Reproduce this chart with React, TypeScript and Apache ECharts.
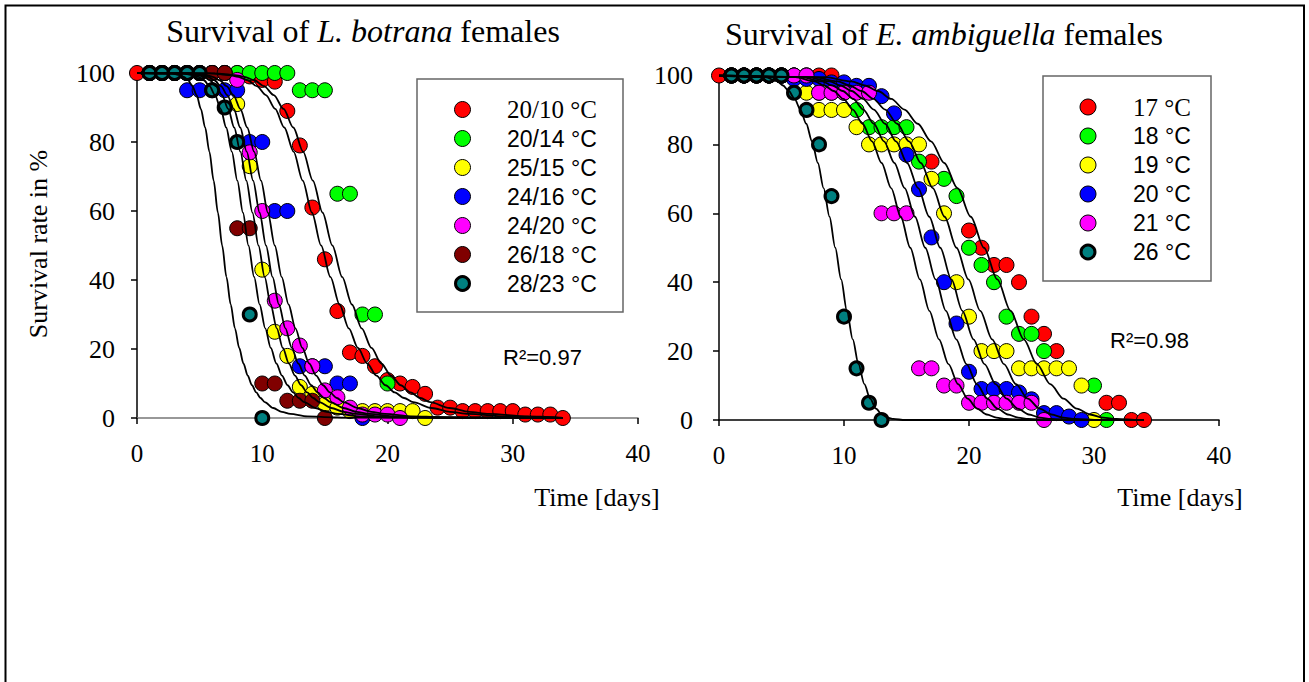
import React, { useEffect, useRef } from "react";
import * as echarts from "echarts";

// ---------- Lobesia botrana (left panel) ----------
const LB_LABELS = ["20/10 °C", "20/14 °C", "25/15 °C", "24/16 °C", "24/20 °C", "26/18 °C", "28/23 °C"];
const LB_COLORS = ["#FF0000", "#00FF00", "#FFFF00", "#0000FF", "#FF00FF", "#800000", "#008080"];

const lb2010 = [[0,100],[1,100],[2,100],[3,100],[4,100],[5,100],[6,100],[7,100],[8,100],[9,99],[10,98],[11,97.5],[12,89],[13,79],[14,61],[15,46],[16,31],[17,19],[18,18],[19,15],[20,11],[21,10],[22,9],[23,7],[24,3],[25,3],[26,2],[27,2],[28,2],[29,2],[30,2],[31,1],[32,1],[33,1],[34,0]];
const lb2014 = [[1,100],[2,100],[3,100],[4,100],[5,100],[6,100],[7,100],[8,100],[9,100],[10,100],[11,100],[12,100],[13,95],[14,95],[15,95],[16,65],[17,65],[18,30],[19,30],[20,10]];
const lb2515 = [[1,100],[2,100],[3,100],[4,100],[5,100],[6,100],[7,100],[8,91],[9,73],[10,43],[11,25],[12,18],[13,9],[14,7],[15,4],[16,3],[17,2],[18,2],[19,2],[20,2],[21,2],[22,2],[23,0]];
const lb2416 = [[1,100],[2,100],[3,100],[4,95],[5,95],[6,95],[7,95],[8,95],[9,80],[10,80],[11,60],[12,60],[13,15],[14,15],[15,15],[16,10],[17,10],[18,0]];
const lb2420 = [[1,100],[2,100],[3,100],[4,100],[5,100],[6,100],[7,100],[8,98],[9,77],[10,60],[11,34],[12,26],[13,21],[14,15],[15,8],[16,6],[17,3],[18,1],[19,1],[20,1],[21,0]];
const lb2618 = [[1,100],[2,100],[3,100],[4,100],[5,100],[6,100],[7,100],[8,55],[9,55],[10,10],[11,10],[12,5],[13,5],[14,5],[15,0]];
const lb2823 = [[1,100],[2,100],[3,100],[4,100],[5,100],[6,95],[7,90],[8,80],[9,30],[10,0]];
const LB_DATA = [lb2010, lb2014, lb2515, lb2416, lb2420, lb2618, lb2823];

// fitted curves, left panel: survival levels and the day at which each curve reaches them
const LB_FIT_LEVELS = [100, 99.9, 99.4, 98.9, 97.9, 96.2, 93.6, 89.6, 84.2, 77.2, 68.8, 59.5, 50, 40.9, 32.9, 26.0, 20.3, 15.8, 12.3, 9.5, 7.4, 5.8, 4.6, 2.9, 1.8, 1.2, 0.5, 0.27, 0.1, 0];
const lbFitA = [0, 2.72, 3.4, 3.74, 4.08, 4.42, 4.76, 5.1, 5.44, 5.78, 6.12, 6.46, 6.8, 7.14, 7.48, 7.82, 8.16, 8.5, 8.84, 9.18, 9.52, 9.86, 10.2, 10.88, 11.56, 12.24, 13.6, 14.96, 17.0, 34];
const lbFitB = [0, 3.56, 4.45, 4.9, 5.34, 5.79, 6.23, 6.68, 7.12, 7.57, 8.01, 8.46, 8.9, 9.35, 9.79, 10.24, 10.68, 11.13, 11.57, 12.02, 12.46, 12.91, 13.35, 14.24, 15.13, 16.02, 17.8, 19.58, 22.25, 34];
const lbFitC = [0, 3.88, 4.85, 5.34, 5.82, 6.31, 6.79, 7.28, 7.76, 8.25, 8.73, 9.22, 9.7, 10.19, 10.67, 11.16, 11.64, 12.13, 12.61, 13.1, 13.58, 14.07, 14.55, 15.52, 16.49, 17.46, 19.4, 21.34, 24.25, 34];
const lbFitD = [0, 4.12, 5.15, 5.67, 6.18, 6.7, 7.21, 7.73, 8.24, 8.76, 9.27, 9.79, 10.3, 10.82, 11.33, 11.85, 12.36, 12.88, 13.39, 13.91, 14.42, 14.94, 15.45, 16.48, 17.51, 18.54, 20.6, 22.66, 25.75, 34];
const lbFitE = [0, 4.4, 5.5, 6.05, 6.6, 7.15, 7.7, 8.25, 8.8, 9.35, 9.9, 10.45, 11, 11.55, 12.1, 12.65, 13.2, 13.75, 14.3, 14.85, 15.4, 15.95, 16.5, 17.6, 18.7, 19.8, 22, 24.2, 27.5, 34];
const lbFitF = [0, 5.88, 7.35, 8.09, 8.82, 9.56, 10.29, 11.03, 11.76, 12.5, 13.23, 13.97, 14.7, 15.44, 16.17, 16.91, 17.64, 18.38, 19.11, 19.85, 20.58, 21.32, 22.05, 23.52, 24.99, 26.46, 29.4, 32.34, 33.5, 34];
const lbFitG = [0, 6.24, 7.8, 8.58, 9.36, 10.14, 10.92, 11.7, 12.48, 13.26, 14.04, 14.82, 15.6, 16.38, 17.16, 17.94, 18.72, 19.5, 20.28, 21.06, 21.84, 22.62, 23.4, 24.96, 26.52, 28.08, 31.2, 33.3, 33.7, 34];
const LB_FITS = [lbFitA, lbFitB, lbFitC, lbFitD, lbFitE, lbFitF, lbFitG];

// ---------- Eupoecilia ambiguella (right panel) ----------
const EA_LABELS = ["17 °C", "18 °C", "19 °C", "20 °C", "21 °C", "26 °C"];
const EA_COLORS = ["#FF0000", "#00FF00", "#FFFF00", "#0000FF", "#FF00FF", "#008080"];

const ea17 = [[0,100],[1,100],[2,100],[3,100],[4,100],[5,100],[6,100],[7,100],[8,100],[9,100],[17,75],[20,55],[21,50],[22,45],[23,45],[24,40],[25,30],[26,25],[27,20],[31,5],[32,5],[33,0],[34,0]];
const ea18 = [[1,100],[2,100],[3,100],[4,100],[5,100],[6,100],[7,100],[8,95],[9,95],[10,95],[11,90],[12,85],[13,85],[14,85],[15,85],[16,75],[18,70],[19,65],[20,50],[21,45],[22,40],[23,30],[24,25],[25,25],[26,20],[30,10],[31,0]];
const ea19 = [[1,100],[2,100],[3,100],[4,100],[5,100],[6,100],[7,95],[8,90],[9,90],[10,90],[11,85],[12,80],[13,80],[14,80],[15,80],[16,80],[17,70],[18,60],[19,40],[20,30],[21,20],[22,20],[23,20],[24,15],[25,15],[26,15],[27,15],[28,15],[29,10],[30,0]];
const ea20 = [[1,100],[2,100],[3,100],[4,100],[5,100],[6,99],[7,99],[8,99],[9,98],[10,98],[11,97],[12,97],[13,94],[14,89],[15,77],[16,67],[17,53],[18,40],[19,28],[20,14],[21,9],[22,9],[23,9],[24,8],[25,6],[26,2],[27,2],[28,1],[29,0]];
const ea21 = [[1,100],[2,100],[3,100],[4,100],[5,100],[6,100],[7,100],[8,95],[9,95],[10,95],[11,95],[12,95],[13,60],[14,60],[15,60],[16,15],[17,15],[18,10],[19,10],[20,5],[21,5],[22,5],[23,5],[24,5],[25,5],[26,0]];
const ea26 = [[1,100],[2,100],[3,100],[4,100],[5,100],[6,95],[7,90],[8,80],[9,65],[10,30],[11,15],[12,5],[13,0]];
const EA_DATA = [ea17, ea18, ea19, ea20, ea21, ea26];

// fitted curves, right panel: survival levels and the day at which each curve reaches them
const EA_FIT_LEVELS = [100, 99.5, 98.3, 97.1, 95.5, 93.2, 90.1, 86.0, 80.9, 74.6, 67.3, 59.0, 50, 40.8, 31.7, 23.4, 16.2, 10.4, 6.2, 3.3, 1.6, 0.7, 0.3, 0, 0];
const eaFit26 = [0, 3.72, 4.65, 5.12, 5.58, 6.05, 6.51, 6.98, 7.44, 7.91, 8.37, 8.84, 9.3, 9.77, 10.23, 10.7, 11.16, 11.63, 12.09, 12.56, 13.02, 13.49, 13.95, 14.88, 34];
const eaFit21 = [0, 6.12, 7.65, 8.42, 9.18, 9.95, 10.71, 11.48, 12.24, 13.01, 13.77, 14.54, 15.3, 16.07, 16.83, 17.6, 18.36, 19.13, 19.89, 20.66, 21.42, 22.19, 22.95, 24.48, 34];
const eaFit20 = [0, 6.6, 8.25, 9.08, 9.9, 10.73, 11.55, 12.38, 13.2, 14.03, 14.85, 15.68, 16.5, 17.33, 18.15, 18.98, 19.8, 20.63, 21.45, 22.28, 23.1, 23.93, 24.75, 26.4, 34];
const eaFit19 = [0, 7.08, 8.85, 9.74, 10.62, 11.51, 12.39, 13.28, 14.16, 15.05, 15.93, 16.82, 17.7, 18.59, 19.47, 20.36, 21.24, 22.13, 23.01, 23.9, 24.78, 25.67, 26.55, 28.32, 34];
const eaFit18 = [0, 7.6, 9.5, 10.45, 11.4, 12.35, 13.3, 14.25, 15.2, 16.15, 17.1, 18.05, 19, 19.95, 20.9, 21.85, 22.8, 23.75, 24.7, 25.65, 26.6, 27.55, 28.5, 30.4, 34];
const eaFit17 = [0, 8.48, 10.6, 11.66, 12.72, 13.78, 14.84, 15.9, 16.96, 18.02, 19.08, 20.14, 21.2, 22.26, 23.32, 24.38, 25.44, 26.5, 27.56, 28.62, 29.68, 30.74, 31.8, 33.6, 34];
const EA_FITS = [eaFit26, eaFit21, eaFit20, eaFit19, eaFit18, eaFit17];

const SERIF = "'Liberation Serif', 'Times New Roman', serif";
const SANS = "'Liberation Sans', Arial, sans-serif";

function xAxis(gridIndex: number, lineColor: string) {
  return {
    type: "value", gridIndex, min: 0, max: 40, interval: 10,
    axisLine: { show: true, onZero: false, lineStyle: { color: lineColor, width: 1.5 } },
    axisTick: { show: true, inside: false, length: 6, lineStyle: { color: "#000", width: 1.5 } },
    axisLabel: { color: "#000", fontFamily: SERIF, fontSize: 25, margin: 23 },
    splitLine: { show: false },
  };
}

function yAxis(gridIndex: number, margin: number) {
  return {
    type: "value", gridIndex, min: 0, max: 100, interval: 20,
    axisLine: { show: true, onZero: false, lineStyle: { color: "#000", width: 1.5 } },
    axisTick: { show: true, inside: false, length: 6, lineStyle: { color: "#000", width: 1.5 } },
    axisLabel: { color: "#000", fontFamily: SERIF, fontSize: 26, margin },
    splitLine: { show: false },
  };
}

function scatterSeries(data: number[][][], colors: string[], names: string[], idx: number) {
  return data.map((d, i) => ({
    type: "scatter", name: names[i], xAxisIndex: idx, yAxisIndex: idx, data: d,
    symbol: "circle", symbolSize: i === data.length - 1 ? 13 : 15,
    itemStyle: { color: colors[i], borderColor: "#000", borderWidth: i === data.length - 1 ? 3 : 1, opacity: 1 },
    z: 2, silent: true,
  }));
}

function fitSeries(fits: number[][], levels: number[], idx: number) {
  return fits.map((days) => ({
    type: "line", xAxisIndex: idx, yAxisIndex: idx,
    data: days.map((d, k) => [d, levels[k]]),
    smooth: 0.3, smoothMonotone: "x", showSymbol: false, symbol: "none",
    lineStyle: { color: "#000", width: 1.8 }, z: 3, silent: true,
  }));
}

function legendGraphics(box: number[], markerX: number, textX: number, rowY: number, step: number, labels: string[], colors: string[]) {
  const els: any[] = [
    { type: "rect", shape: { x: box[0], y: box[1], width: box[2], height: box[3] }, style: { fill: "#fff", stroke: "#666", lineWidth: 1.5 }, z: 10 },
  ];
  labels.forEach((lab, i) => {
    const last = i === labels.length - 1;
    els.push({
      type: "circle", shape: { cx: markerX, cy: rowY + i * step, r: last ? 7 : 8 },
      style: { fill: colors[i], stroke: "#000", lineWidth: last ? 3 : 1 }, z: 11,
    });
    els.push({
      type: "text", x: textX, y: rowY + i * step,
      style: { text: lab, fill: "#000", font: `${i === 0 ? 25 : 23}px ${i === 0 ? SERIF : SANS}`, textAlign: "left", textVerticalAlign: "middle" },
      z: 11,
    });
  });
  return els;
}

function titleText(x: number, y: number, species: string) {
  return {
    type: "text", x, y, z: 10,
    style: {
      text: `{n|Survival of }{i|${species}}{n| females}`,
      textAlign: "center", textVerticalAlign: "middle",
      rich: {
        n: { fontFamily: SERIF, fontSize: 32, fill: "#000" },
        i: { fontFamily: SERIF, fontSize: 32, fontStyle: "italic", fill: "#000" },
      },
    },
  };
}

const option: any = {
  animation: false,
  backgroundColor: "#fff",
  grid: [
    { left: 137, top: 73, width: 501, height: 345 },
    { left: 719, top: 75.5, width: 500, height: 344.5 },
  ],
  xAxis: [xAxis(0, "#777"), xAxis(1, "#000")],
  yAxis: [yAxis(0, 22), yAxis(1, 26)],
  series: [
    ...scatterSeries(LB_DATA, LB_COLORS, LB_LABELS, 0),
    ...fitSeries(LB_FITS, LB_FIT_LEVELS, 0),
    ...scatterSeries(EA_DATA, EA_COLORS, EA_LABELS, 1),
    ...fitSeries(EA_FITS, EA_FIT_LEVELS, 1),
  ],
  graphic: [
    { type: "rect", shape: { x: 5.5, y: 5.5, width: 1298.5, height: 700 }, style: { fill: "none", stroke: "#000", lineWidth: 2 }, z: 20 },
    titleText(363, 31, "L. botrana"),
    titleText(944, 34, "E. ambiguella"),
    {
      type: "text", x: 38, y: 244, rotation: Math.PI / 2, z: 10,
      style: { text: "Survival rate in %", font: `26px ${SERIF}`, fill: "#000", textAlign: "center", textVerticalAlign: "middle" },
    },
    { type: "text", x: 597, y: 497, z: 10, style: { text: "Time [days]", font: `26px ${SERIF}`, fill: "#000", textAlign: "center", textVerticalAlign: "middle" } },
    { type: "text", x: 1180, y: 497, z: 10, style: { text: "Time [days]", font: `26px ${SERIF}`, fill: "#000", textAlign: "center", textVerticalAlign: "middle" } },
    { type: "text", x: 503, y: 357, z: 10, style: { text: "R²=0.97", font: `22px ${SANS}`, fill: "#000", textAlign: "left", textVerticalAlign: "middle" } },
    { type: "text", x: 1110, y: 340, z: 10, style: { text: "R²=0.98", font: `22px ${SANS}`, fill: "#000", textAlign: "left", textVerticalAlign: "middle" } },
    ...legendGraphics([417, 79, 206, 233], 462.5, 507, 109.5, 29, LB_LABELS, LB_COLORS),
    ...legendGraphics([1043, 76, 168, 205], 1088, 1133, 107, 29, EA_LABELS, EA_COLORS),
  ],
};

export default function App() {
  const ref = useRef<HTMLDivElement>(null);
  useEffect(() => {
    if (!ref.current) return;
    const chart = echarts.init(ref.current, null, { renderer: "svg" });
    chart.setOption(option);
    return () => chart.dispose();
  }, []);
  return (
    <div
      ref={ref}
      style={{ position: "absolute", left: 0, top: 0, width: 1309, height: 682, background: "#fff" }}
    />
  );
}
